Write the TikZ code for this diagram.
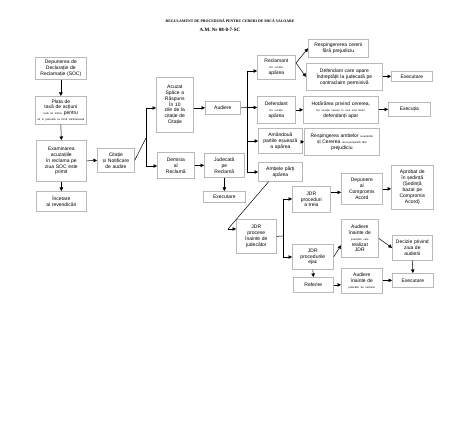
\documentclass[tikz,border=0pt]{standalone}
\usepackage{fontspec}
\setmainfont{Liberation Sans}
\newfontfamily\titlefont{Liberation Serif}
\usepackage{tikz}
\usetikzlibrary{arrows.meta,positioning}
\newcommand{\boxfont}{\fontsize{5}{5.9}\selectfont}
\newcommand{\mic}[1]{{\fontsize{2.6}{3.2}\selectfont #1}}

\tikzset{
  box/.style={draw=gray!55, line width=0.7pt, inner sep=1pt, align=center, font=\boxfont, anchor=north west},
  arr/.style={-{Triangle[length=3.5pt,width=3.5pt]}, line width=0.5pt},
  link/.style={line width=0.5pt}
}

\begin{document}
\begin{tikzpicture}[x=1pt,y=-1pt]
        \useasboundingbox (0,0) rectangle (474,422);

        \node[font=\titlefont\bfseries\fontsize{3.8}{4.5}\selectfont] (titlu) at (230,20.5) {REGULAMENT DE PROCEDURĂ PENTRU CERERI DE MICĂ VALOARE};
        \node[font=\titlefont\bfseries\fontsize{5}{6}\selectfont] (numar) at (220,29.5) {A.M. Nr 08-8-7-SC};

        % left column
        \node[box, text width=49, minimum height=22] (depunere) at (35,57) {Depunerea de\\ Declarație de\\ Reclamație (SOC)};
        \node[box, text width=49, minimum height=28] (plata) at (35,96) {Plata de\\ taxă de acțiuni\\ \mic{taxă de timbru} pentru\\ \mic{să în judecată ca firmă sărăcăcioasă}};
        \node[box, text width=48, minimum height=41] (examinarea) at (36,140) {Examinarea\\ acuzațiile\\ în reclama pe\\ ziua SOC este\\ primit};
        \node[box, text width=48, minimum height=20] (incetare) at (36,191) {Încetare\\ al revendicări};
        \node[box, text width=35, minimum height=24] (citatie) at (97,148) {Citație\\ și Notificare\\ de audire};

        \node[box, text width=35, minimum height=55] (acuzat) at (156,77) {Acuzat\\ Spăce a\\ Răspuns\\ În 10\\ zile de la\\ citație de\\ Citație};
        \node[box, text width=33, minimum height=13] (audiere) at (205,101) {Audiere};
        \node[box, text width=35, minimum height=26] (demisia) at (157,152) {Demisia\\ al\\ Reclamă};
        \node[box, text width=38, minimum height=24] (judecata) at (204,153) {Judecată\\ pe\\ Reclamă};
        \node[box, text width=40, minimum height=11] (exec1) at (203,191) {Executare};

        % right part
        \node[box, text width=36, minimum height=24] (reclamant) at (257,55) {Reclamant\\ \mic{Re vocație}\\ apărea};
        \node[box, text width=58, minimum height=18] (respingerea) at (308,39) {Respingererea cererii\\ fără prejudiciu};
        \node[box, text width=74, minimum height=27] (defcare) at (306,63) {Defendant care apare\\ Îndreptățit la judecată pe\\ contraclaim permisivă};
        \node[box, text width=39, minimum height=10] (exec2) at (391,71) {Executare};

        \node[box, text width=36, minimum height=27] (defendant) at (257,96) {Defendant\\ \mic{Re vocație}\\ apărea};
        \node[box, text width=73, minimum height=27] (hotararea) at (303,96) {Hotărârea privind cererea,\\ \mic{Re vocație} \mic{cazului în care unul dintre}\\ defendanți apar};
        \node[box, text width=40, minimum height=14] (executia) at (388,102) {Execuția};

        \node[box, text width=42, minimum height=25] (amandoua) at (258,128) {Amândouă\\ partile eșuează\\ a apărea};
        \node[box, text width=73, minimum height=27] (respAmbelor) at (304,128) {Respingerea ambelor \mic{revendicări}\\ și Cererea \mic{reconvențională} \mic{fără}\\ prejudiciu};
        \node[box, text width=42, minimum height=19] (ambele) at (258,162) {Ambele părți\\ apărea};

        % JDR part
        \node[box, text width=38, minimum height=34] (jdrProcese) at (236,219) {JDR\\ procese\\ înainte de\\ judecător};
        \node[box, text width=36, minimum height=26] (jdrTreia) at (292,186) {JDR\\ proceduri\\ a treia};
        \node[box, text width=39, minimum height=31] (depunereCA) at (341,173) {Depunere\\ al\\ Compromis\\ Acord};
        \node[box, text width=40, minimum height=44] (aprobat) at (391,165) {Aprobat de\\ în ședință\\ (Ședință\\ bazat pe\\ Compromis\\ Acord)};
        \node[box, text width=39, minimum height=25] (jdrEjac) at (292,244) {JDR\\ procedurile\\ ejac};
        \node[box, text width=35, minimum height=38] (audiereJDR) at (341,219) {Audiere\\ înainte de\\ \mic{judecător care}\\ realizat\\ JDR};
        \node[box, text width=38, minimum height=25] (decizie) at (392,235) {Decizie privind\\ ziua de\\ audierii};
        \node[box, text width=38, minimum height=15] (refarire) at (293,277) {Referire};
        \node[box, text width=39, minimum height=25] (audiereSect) at (341,268) {Audiere\\ înainte de\\ \mic{judecător de secțiune}};
        \node[box, text width=39, minimum height=14] (exec4) at (392,273) {Executare};

        % connectors left
        \draw[arr] (depunere.south) -- (plata.north);
        \draw[arr] (plata.south) -- (examinarea.north);
        \draw[arr] (examinarea.south) -- (incetare.north);
        \draw[arr] (examinarea.east) -- (citatie.west);

        \coordinate (citBr) at (146,138);
        \coordinate (citSus) at (146,108);
        \coordinate (citJos) at (146,166);
        \draw[link] (citatie.east) -- (citBr);
        \draw[link] (citSus) -- (citJos);
        \draw[arr] (citSus) -- (citSus -| acuzat.west);
        \draw[arr] (citJos) -- (citJos -| demisia.west);

        \draw[arr] (audiere.west -| acuzat.east) -- (audiere.west);
        \draw[arr] (demisia.east) -- (judecata.west);
        \draw[arr] (judecata.south) -- (exec1.north);

        % connectors right
        \coordinate (audBr) at (247,107.5);
        \coordinate (audSus) at (247,71);
        \coordinate (audAm) at (247,141);
        \coordinate (audJos) at (247,172);
        \draw[link] (audiere.east) -- (audBr);
        \draw[link] (audSus) -- (audJos);
        \draw[arr] (audSus) -- (audSus -| reclamant.west);
        \draw[arr] (audBr) -- (audBr -| defendant.west);
        \draw[arr] (audAm) -- (audAm -| amandoua.west);
        \draw[arr] (audJos) -- (audJos -| ambele.west);

        \coordinate (reclPct) at (296,63);
        \draw[arr] (reclPct) -- (respingerea.west);
        \draw[arr] (reclPct) -- (defcare.west);
        \draw[arr] (defcare.east |- exec2.west) -- (exec2.west);
        \draw[arr] (defendant.east) -- (hotararea.west);
        \draw[arr] (hotararea.east |- executia.west) -- (executia.west);
        \draw[arr] (amandoua.east |- respAmbelor.west) -- (respAmbelor.west);

        % JDR connectors
        \coordinate (ambCol) at (228,229);
        \draw[link] (ambele.220) -- (ambCol);
        \draw[arr] (ambCol) -- (ambCol -| jdrProcese.west);

        \coordinate (jdrBr) at (283,236);
        \coordinate (jdrSus) at (283,199);
        \coordinate (jdrJos) at (283,257);
        \draw[link] (jdrProcese.east) -- (jdrBr);
        \draw[link] (jdrSus) -- (jdrJos);
        \draw[arr] (jdrSus) -- (jdrSus -| jdrTreia.west);
        \draw[arr] (jdrJos) -- (jdrJos -| jdrEjac.west);

        \draw[arr] ([yshift=7pt]jdrTreia.east) -- ([yshift=7pt]jdrTreia.east -| depunereCA.west);
        \draw[arr] (depunereCA.east) -- (depunereCA.east -| aprobat.west);
        \draw[arr] (jdrEjac.east) -- (audiereJDR.200);
        \draw[arr] (audiereJDR.east) -- (decizie.west);
        \draw[arr] (decizie.south) -- (exec4.north);
        \draw[arr] (jdrEjac.south) -- (refarire.north);
        \draw[arr] (refarire.east) -- (refarire.east -| audiereSect.west);
        \draw[arr] (audiereSect.east |- exec4.west) -- (exec4.west);

      \end{tikzpicture}
\end{document}
